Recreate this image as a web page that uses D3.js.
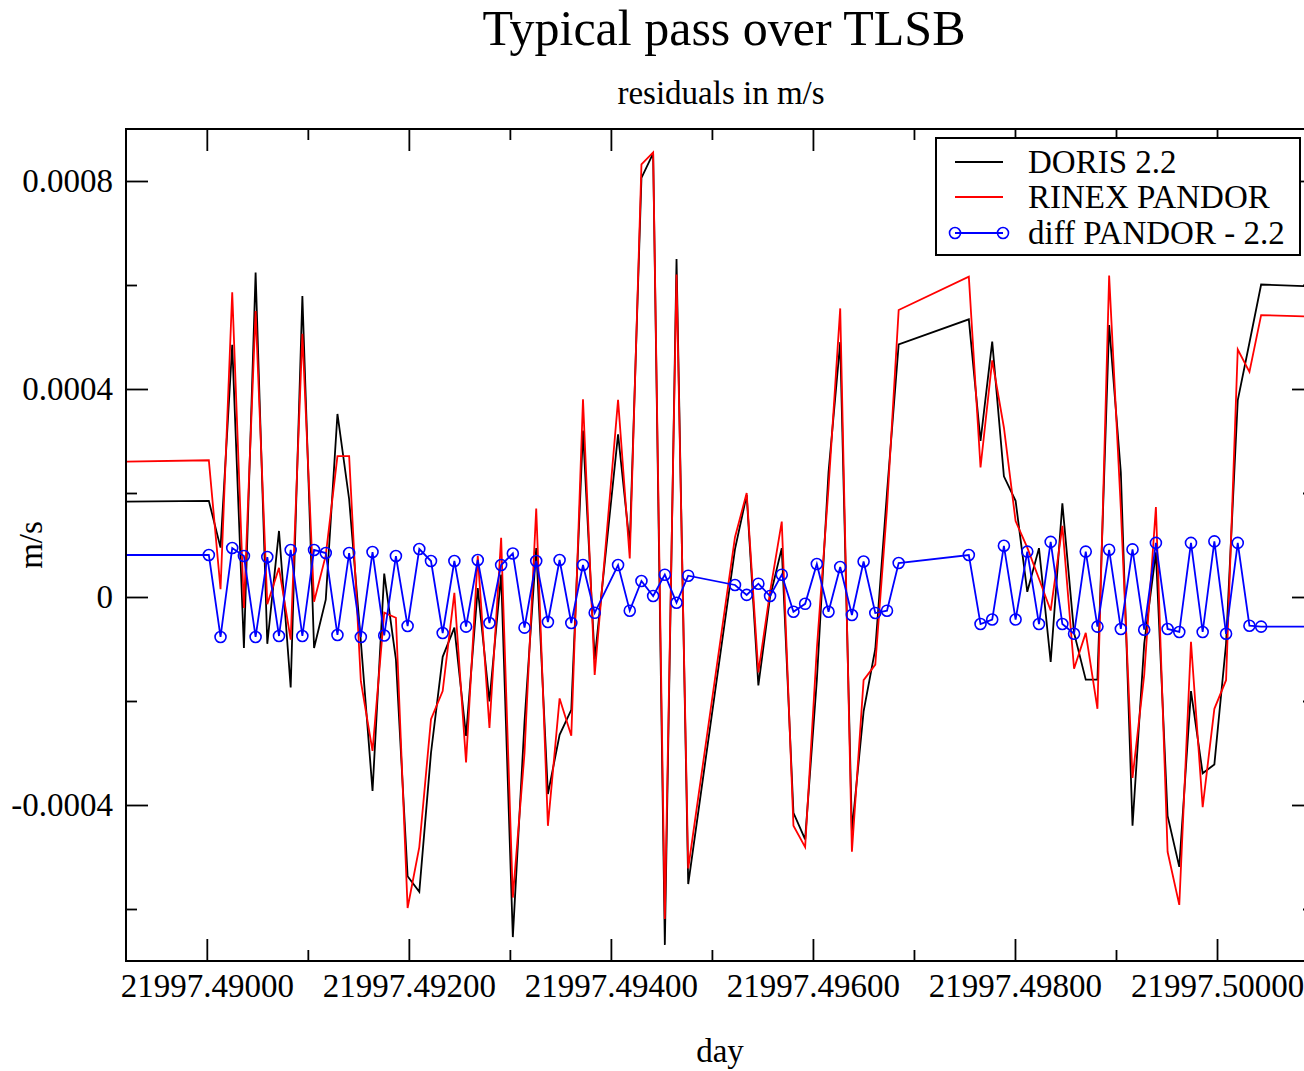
<!DOCTYPE html>
<html>
<head>
<meta charset="utf-8">
<script src="https://cdn.jsdelivr.net/npm/d3@7"></script>
<style>
  html, body { margin: 0; padding: 0; background: #fff; }
  svg { display: block; font-family: "Liberation Serif", "Times New Roman", serif; }
</style>
</head>
<body>
<svg id="chart" width="1304" height="1071"></svg>
<script>
// Epoch offsets (seconds) from t0, one sample every 10 s, with gaps
const t0 = 21997.49002;
const epochSec = [-140, 0, 10, 20, 30, 40, 50, 60, 70, 80, 90, 100, 110, 120, 130, 140,
  150, 160, 170, 180, 190, 200, 210, 220, 230, 240, 250, 260, 270, 280, 290, 300, 310,
  320, 330, 350, 360, 370, 380, 390, 400, 410, 450, 460, 470, 480, 490, 500, 510, 520,
  530, 540, 550, 560, 570, 580, 590, 650, 660, 670, 680, 690, 700, 710, 720, 730, 740,
  750, 760, 770, 780, 790, 800, 810, 820, 830, 840, 850, 860, 870, 880, 890, 900, 980];

// DORIS 2.2 residuals (m/s)
const dorisVals = [0.000182, 0.000185, 0.000095, 0.000485, -0.000098, 0.000624, -0.000090,
  0.000127, -0.000174, 0.000579, -0.000098, -0.000005, 0.000352, 0.000188, -0.000085,
  -0.000373, 0.000045, -0.000120, -0.000537, -0.000567, -0.000300, -0.000115, -0.000059,
  -0.000267, 0.000017, -0.000201, 0.000043, -0.000654, -0.000240, 0.000094, -0.000379,
  -0.000265, -0.000217, 0.000320, -0.000120, 0.000313, 0.000100, 0.000806, 0.000853,
  -0.000669, 0.000650, -0.000552, 0.000092, 0.000196, -0.000170, 0.000000, 0.000094,
  -0.000415, -0.000466, -0.000160, 0.000240, 0.000490, -0.000450, -0.000220, -0.000100,
  0.000200, 0.000486, 0.000534, 0.000300, 0.000491, 0.000232, 0.000185, 0.000010,
  0.000094, -0.000125, 0.000180, -0.000069, -0.000159, -0.000159, 0.000523, 0.000240,
  -0.000440, -0.000090, 0.000086, -0.000421, -0.000519, -0.000181, -0.000339, -0.000322,
  -0.000090, 0.000378, 0.000489, 0.000601, 0.000594];

// RINEX PANDOR residuals (m/s)
const pandorVals = [0.000258, 0.000263, 0.000015, 0.000586, -0.000021, 0.000550, -0.000014,
  0.000056, -0.000082, 0.000506, -0.000009, 0.000080, 0.000271, 0.000271, -0.000162,
  -0.000296, -0.000030, -0.000040, -0.000598, -0.000481, -0.000235, -0.000181, 0.000008,
  -0.000318, 0.000079, -0.000252, 0.000114, -0.000578, -0.000300, 0.000170, -0.000440,
  -0.000195, -0.000267, 0.000380, -0.000150, 0.000379, 0.000074, 0.000832, 0.000855,
  -0.000619, 0.000620, -0.000522, 0.000115, 0.000200, -0.000145, 0.000010, 0.000145,
  -0.000440, -0.000481, -0.000100, 0.000210, 0.000555, -0.000490, -0.000160, -0.000130,
  0.000170, 0.000552, 0.000616, 0.000249, 0.000455, 0.000326, 0.000146, 0.000095,
  0.000035, -0.000026, 0.000137, -0.000138, -0.000069, -0.000215, 0.000618, 0.000170,
  -0.000348, -0.000150, 0.000173, -0.000490, -0.000592, -0.000086, -0.000404, -0.000215,
  -0.000160, 0.000476, 0.000433, 0.000542, 0.000537];

// diff PANDOR - 2.2 (m/s)
const diffVals = [0.0000808, 0.0000808, -0.0000769, 0.0000942, 0.0000788, -0.0000769,
  0.0000769, -0.0000750, 0.0000904, -0.0000750, 0.0000904, 0.0000846, -0.0000730,
  0.0000846, -0.0000770, 0.0000865, -0.0000740, 0.0000788, -0.0000558, 0.0000923,
  0.0000692, -0.0000692, 0.0000692, -0.0000570, 0.0000712, -0.0000500, 0.0000615,
  0.0000837, -0.0000589, 0.0000692, -0.0000481, 0.0000712, -0.0000500, 0.0000615,
  -0.0000304, 0.0000615, -0.0000263, 0.0000308, 0.0000019, 0.0000429, -0.0000110,
  0.0000410, 0.0000231, 0.0000040, 0.0000256, 0.0000019, 0.0000429, -0.0000283,
  -0.0000131, 0.0000635, -0.0000283, 0.0000577, -0.0000346, 0.0000683, -0.0000308,
  -0.0000263, 0.0000654, 0.0000808, -0.0000520, -0.0000433, 0.0000985, -0.0000433,
  0.0000873, -0.0000520, 0.0001060, -0.0000520, -0.0000707, 0.0000873, -0.0000569,
  0.0000908, -0.0000615, 0.0000915, -0.0000629, 0.0001040, -0.0000615, -0.0000673,
  0.0001040, -0.0000673, 0.0001070, -0.0000707, 0.0001040, -0.0000552, -0.0000569,
  -0.0000569];

// Axis ticks
const xMajorTicks = [21997.490, 21997.492, 21997.494, 21997.496, 21997.498, 21997.500];
const xMinorTicks = [21997.491, 21997.493, 21997.495, 21997.497, 21997.499];
const yMajorTicks = [-0.0004, 0, 0.0004, 0.0008];
const yMinorTicks = [-0.0006, -0.0002, 0.0002, 0.0006];

const seriesNames = ["DORIS 2.2", "RINEX PANDOR", "diff PANDOR - 2.2"];
const seriesColors = ["#000000", "#ff0000", "#0000ff"];

// Layout
const margin = { left: 126, top: 129, right: 1314, bottom: 961 };
const svg = d3.select("#chart");

const x = d3.scaleLinear()
  .domain([21997.4892, 21997.50096])
  .range([margin.left, margin.right]);
const y = d3.scaleLinear()
  .domain([-0.0007, 0.0009])
  .range([margin.bottom, margin.top]);

const days = epochSec.map((s) => t0 + s / 86400);
const mkPoints = (vals) => vals.map((v, i) => ({ x: days[i], y: v }));
const series = [mkPoints(dorisVals), mkPoints(pandorVals), mkPoints(diffVals)];

// Clip to the plot frame
svg.append("defs")
  .append("clipPath")
  .attr("id", "plot-clip")
  .append("rect")
  .attr("x", margin.left)
  .attr("y", margin.top)
  .attr("width", margin.right - margin.left)
  .attr("height", margin.bottom - margin.top);

// Titles
svg.append("text")
  .attr("x", 724).attr("y", 45)
  .attr("text-anchor", "middle")
  .attr("font-size", "50px")
  .text("Typical pass over TLSB");

svg.append("text")
  .attr("x", 721).attr("y", 104)
  .attr("text-anchor", "middle")
  .attr("font-size", "33px")
  .text("residuals in m/s");

svg.append("text")
  .attr("x", 720).attr("y", 1062)
  .attr("text-anchor", "middle")
  .attr("font-size", "33px")
  .text("day");

svg.append("text")
  .attr("transform", "translate(42,545) rotate(-90)")
  .attr("text-anchor", "middle")
  .attr("font-size", "33px")
  .text("m/s");

// Data lines
const line = d3.line().x((d) => x(d.x)).y((d) => y(d.y));
const plot = svg.append("g").attr("clip-path", "url(#plot-clip)");

series.forEach((pts, i) => {
  plot.append("path")
    .datum(pts)
    .attr("fill", "none")
    .attr("stroke", seriesColors[i])
    .attr("stroke-width", 1.8)
    .attr("stroke-linejoin", "miter")
    .attr("d", line);
});

// Circle markers on the diff series
plot.append("g")
  .selectAll("circle")
  .data(series[2])
  .enter()
  .append("circle")
  .attr("cx", (d) => x(d.x))
  .attr("cy", (d) => y(d.y))
  .attr("r", 5.5)
  .attr("fill", "none")
  .attr("stroke", seriesColors[2])
  .attr("stroke-width", 1.6);

// Axes: ticks point inward on all four sides
const styleAxis = (g) => {
  g.select(".domain").remove();
  g.selectAll(".tick line").attr("stroke", "#000").attr("stroke-width", 1.8);
  g.selectAll(".tick text")
    .attr("fill", "#000")
    .attr("font-size", "33px")
    .attr("font-family", "Liberation Serif, Times New Roman, serif");
};

const addAxis = (axisFn, scale, ticks, size, translate, fmt) => {
  svg.append("g")
    .attr("transform", translate)
    .call(axisFn(scale).tickValues(ticks).tickSize(-size).tickSizeOuter(0)
      .tickPadding(fmt ? 13 : 0)
      .tickFormat(fmt || (() => "")))
    .call(styleAxis);
};

const xFmt = (d) => d.toFixed(5);
const yFmt = (d) => (d === 0 ? "0" : d.toFixed(4));

addAxis(d3.axisBottom, x, xMajorTicks, 22, `translate(0,${margin.bottom})`, xFmt);
addAxis(d3.axisBottom, x, xMinorTicks, 11, `translate(0,${margin.bottom})`);
addAxis(d3.axisTop, x, xMajorTicks, 22, `translate(0,${margin.top})`);
addAxis(d3.axisTop, x, xMinorTicks, 11, `translate(0,${margin.top})`);
addAxis(d3.axisLeft, y, yMajorTicks, 22, `translate(${margin.left},0)`, yFmt);
addAxis(d3.axisLeft, y, yMinorTicks, 11, `translate(${margin.left},0)`);
addAxis(d3.axisRight, y, yMajorTicks, 22, `translate(${margin.right},0)`);
addAxis(d3.axisRight, y, yMinorTicks, 11, `translate(${margin.right},0)`);

// Frame
svg.append("rect")
  .attr("x", margin.left)
  .attr("y", margin.top)
  .attr("width", margin.right - margin.left)
  .attr("height", margin.bottom - margin.top)
  .attr("fill", "none")
  .attr("stroke", "#000")
  .attr("stroke-width", 2);

// Legend
const legend = svg.append("g").attr("class", "legend");
legend.append("rect")
  .attr("x", 936).attr("y", 138)
  .attr("width", 364).attr("height", 117)
  .attr("fill", "#fff")
  .attr("stroke", "#000")
  .attr("stroke-width", 2);

const legendRows = [162, 197, 233];
seriesNames.forEach((name, i) => {
  const ly = legendRows[i];
  legend.append("line")
    .attr("x1", 955).attr("x2", 1003)
    .attr("y1", ly).attr("y2", ly)
    .attr("stroke", seriesColors[i])
    .attr("stroke-width", 1.8);
  if (i === 2) {
    [955, 1003].forEach((cx) => {
      legend.append("circle")
        .attr("cx", cx).attr("cy", ly).attr("r", 5.5)
        .attr("fill", "none")
        .attr("stroke", seriesColors[i])
        .attr("stroke-width", 1.6);
    });
  }
  legend.append("text")
    .attr("x", 1028).attr("y", ly + 11)
    .attr("font-size", "33px")
    .text(name);
});
</script>
</body>
</html>
